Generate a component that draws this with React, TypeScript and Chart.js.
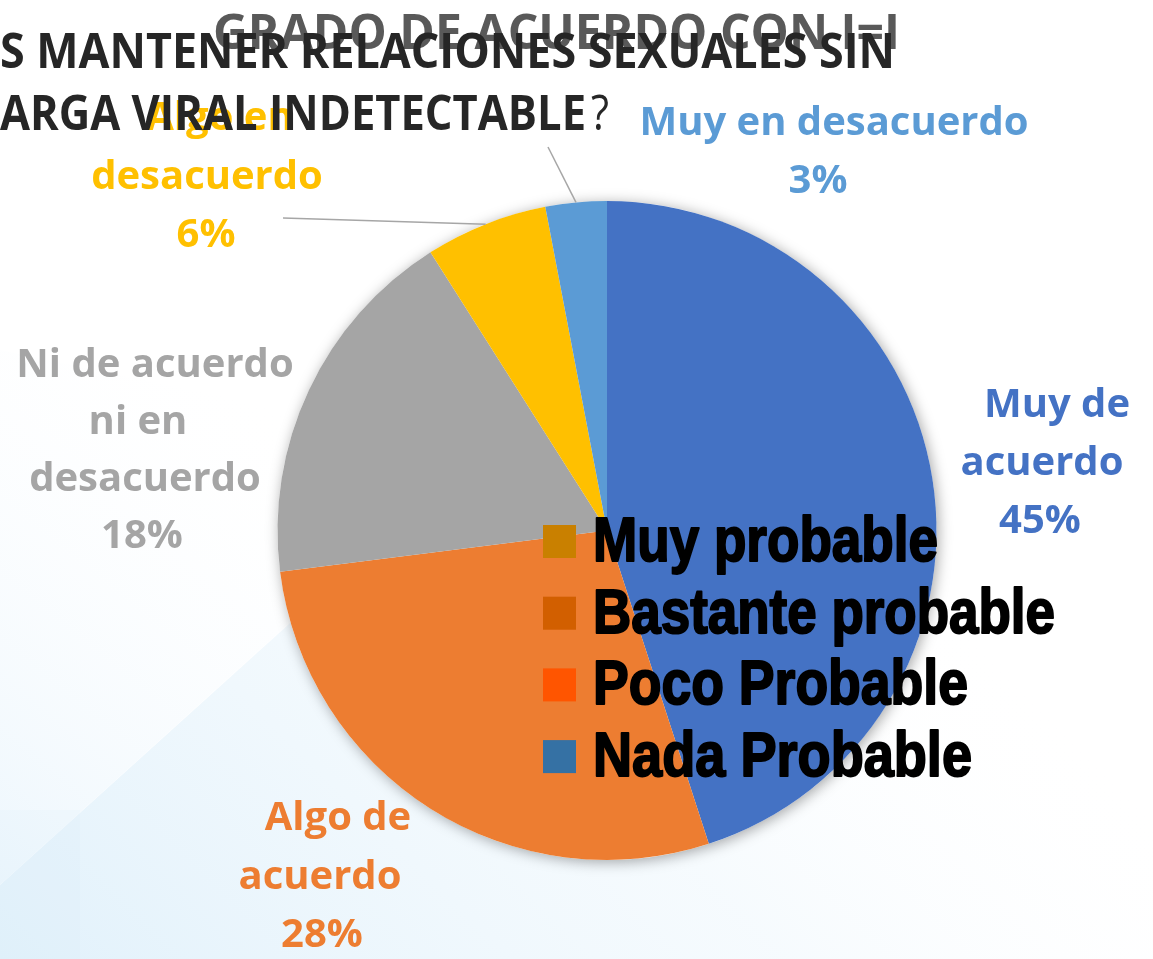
import React, { useEffect, useRef } from "react";
import { Chart, registerables } from "chart.js";

Chart.register(...registerables);

// ---------- data ----------
const categories = [
  "Muy de acuerdo",
  "Algo de acuerdo",
  "Ni de acuerdo ni en desacuerdo",
  "Algo en desacuerdo",
  "Muy en desacuerdo",
];
const values = [45, 28, 18, 6, 3];
const sliceColors = ["#4472C4", "#ED7D31", "#A5A5A5", "#FFC000", "#5B9BD5"];

// wrapped label lines (text comes from categories)
const labelLines = [
  ["Muy de", "acuerdo"],
  ["Algo de", "acuerdo"],
  ["Ni de acuerdo", "ni en", "desacuerdo"],
  ["Algo en", "desacuerdo"],
  ["Muy en desacuerdo"],
];

const legendItems = ["Muy probable", "Bastante probable", "Poco Probable", "Nada Probable"];
const legendColors = ["#C98000", "#D25F00", "#FF5500", "#3571A4"];

const titleBack = "GRADO DE ACUERDO CON I=I";
const titleLine1 = "S MANTENER RELACIONES SEXUALES SIN";
const titleLine2 = "ARGA VIRAL INDETECTABLE";
const titleLine2End = "?";

// ---------- layout (positions only) ----------
const W = 1153;
const H = 959;
const LABEL_FONT = "bold 40px 'Open Sans', 'Noto Sans', sans-serif";
const labelLayout = [
  { xs: [1057, 1042, 1040], y: 417, gap: 58 },
  { xs: [338, 320, 322], y: 830, gap: 58.5 },
  { xs: [155, 138, 145, 142], y: 377, gap: 57 },
  { xs: [220, 207, 206], y: 130, gap: 58.5 },
  { xs: [834, 818], y: 135, gap: 58 },
];
const leaderStarts: (null | [number, number])[] = [null, null, null, [283, 218], [548, 147]];

function fillFit(
  ctx: CanvasRenderingContext2D,
  text: string,
  x: number,
  y: number,
  width: number,
  font: string,
  color: string,
  stroke = 0
) {
  ctx.save();
  ctx.font = font;
  ctx.fillStyle = color;
  ctx.textAlign = "left";
  ctx.textBaseline = "alphabetic";
  const m = ctx.measureText(text).width;
  ctx.translate(x, y);
  ctx.scale(width / m, 1);
  ctx.fillText(text, 0, 0);
  if (stroke > 0) {
    ctx.strokeStyle = color;
    ctx.lineWidth = stroke;
    ctx.lineJoin = "round";
    ctx.strokeText(text, 0, 0);
  }
  ctx.restore();
}

const backgroundPlugin = {
  id: "bgPlugin",
  beforeDraw(chart: any) {
    const ctx: CanvasRenderingContext2D = chart.ctx;
    ctx.save();
    ctx.fillStyle = "#FFFFFF";
    ctx.fillRect(0, 0, W, H);
    const g = ctx.createLinearGradient(0, H, 650, 300);
    g.addColorStop(0, "rgba(225,241,251,1)");
    g.addColorStop(0.6, "rgba(240,248,253,0.6)");
    g.addColorStop(1, "rgba(255,255,255,0)");
    ctx.fillStyle = g;
    ctx.beginPath();
    ctx.moveTo(0, 885);
    ctx.lineTo(980, 0);
    ctx.lineTo(W, 0);
    ctx.lineTo(W, H);
    ctx.lineTo(0, H);
    ctx.closePath();
    ctx.fill();
    const g2 = ctx.createLinearGradient(0, 880, 350, 450);
    g2.addColorStop(0, "rgba(236,246,253,0.95)");
    g2.addColorStop(1, "rgba(255,255,255,0)");
    ctx.fillStyle = g2;
    ctx.beginPath();
    ctx.moveTo(0, 350);
    ctx.lineTo(0, 885);
    ctx.lineTo(480, 450);
    ctx.closePath();
    ctx.fill();
    ctx.fillStyle = "rgba(215,236,249,0.15)";
    ctx.fillRect(0, 810, 80, H - 810);
    ctx.restore();
  },
};

const shadowPlugin = {
  id: "shadowPlugin",
  beforeDatasetsDraw(chart: any) {
    const arc = chart.getDatasetMeta(0).data[0];
    if (!arc) return;
    const ctx: CanvasRenderingContext2D = chart.ctx;
    ctx.save();
    ctx.shadowColor = "rgba(0,0,0,0.35)";
    ctx.shadowBlur = 14;
    ctx.shadowOffsetX = 2;
    ctx.shadowOffsetY = 2;
    ctx.fillStyle = "#FFFFFF";
    ctx.beginPath();
    ctx.arc(arc.x, arc.y, arc.outerRadius, 0, Math.PI * 2);
    ctx.fill();
    ctx.restore();
  },
};

const overlayPlugin = {
  id: "overlayPlugin",
  afterDraw(chart: any) {
    const ctx: CanvasRenderingContext2D = chart.ctx;
    const meta = chart.getDatasetMeta(0);
    ctx.save();
    meta.data.forEach((el: any, i: number) => {
      const s = leaderStarts[i];
      if (!s) return;
      const a = (el.startAngle + el.endAngle) / 2;
      const ex = el.x + Math.cos(a) * el.outerRadius;
      const ey = el.y + Math.sin(a) * el.outerRadius;
      ctx.strokeStyle = "#A6A6A6";
      ctx.lineWidth = 1.5;
      ctx.beginPath();
      ctx.moveTo(s[0], s[1]);
      ctx.lineTo(ex, ey);
      ctx.stroke();
    });
    ctx.font = LABEL_FONT;
    ctx.textAlign = "center";
    ctx.textBaseline = "alphabetic";
    values.forEach((v, i) => {
      const lines = [...labelLines[i], `${v}%`];
      const lay = labelLayout[i];
      ctx.fillStyle = sliceColors[i];
      lines.forEach((t, j) => {
        ctx.fillText(t, lay.xs[j], lay.y + j * lay.gap);
      });
    });
    ctx.restore();

    fillFit(ctx, titleBack, 213, 49, 687, "bold 48px 'Open Sans', sans-serif", "#595959");
    fillFit(ctx, titleLine1, 0, 68, 895, "bold 49px 'Open Sans', sans-serif", "#262626");
    fillFit(ctx, titleLine2, 0, 130, 586, "bold 49px 'Open Sans', sans-serif", "#262626");
    fillFit(ctx, titleLine2End, 591, 130, 18, "normal 49px 'Open Sans', sans-serif", "#262626");

    const legendWidths = [345, 462, 375, 379];
    legendItems.forEach((t, i) => {
      const y = 561 + i * 71.7;
      ctx.save();
      ctx.fillStyle = legendColors[i];
      ctx.fillRect(543, y - 36, 33, 33);
      ctx.restore();
      fillFit(
        ctx,
        t,
        593,
        y,
        legendWidths[i],
        "bold 63px 'Liberation Sans', Arial, sans-serif",
        "#000000",
        2
      );
    });
  },
};

export default function App() {
  const ref = useRef<HTMLCanvasElement | null>(null);
  useEffect(() => {
    document.body.style.margin = "0";
    if (!ref.current) return;
    const chart = new Chart(ref.current, {
      type: "pie",
      data: {
        labels: categories,
        datasets: [
          {
            data: values,
            backgroundColor: sliceColors,
            borderWidth: 0,
          },
        ],
      },
      options: {
        responsive: false,
        animation: false,
        layout: { padding: { top: 201, bottom: 99, left: 277, right: 216 } },
        plugins: {
          legend: { display: false },
          tooltip: { enabled: false },
          title: { display: false },
        },
      },
      plugins: [backgroundPlugin, shadowPlugin, overlayPlugin],
    });
    return () => chart.destroy();
  }, []);
  return (
    <div style={{ position: "fixed", left: 0, top: 0, width: W, height: H }}>
      <canvas ref={ref} width={W} height={H} style={{ display: "block", width: W, height: H }} />
    </div>
  );
}
